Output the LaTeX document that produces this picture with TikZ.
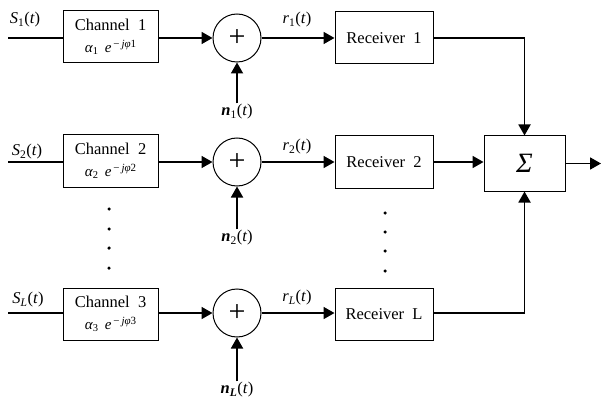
\documentclass[tikz,border=0pt]{standalone}
\usepackage{fontspec}
\setmainfont{Liberation Serif}
\usetikzlibrary{arrows.meta}
\newcommand{\chgain}[1]{{\fontsize{15}{15}\selectfont\textit{α}\textsubscript{#1}\, \textit{e}\raisebox{0.75ex}{\fontsize{11}{11}\selectfont\,−\,\textit{jφ}#1}}}
\begin{document}
\begin{tikzpicture}[x=1pt,y=-1pt,
  chbox/.style={draw,line width=1pt,minimum width=95pt,minimum height=52pt,inner sep=0pt,align=center,
    font=\fontsize{16.5}{20}\selectfont},
  rxbox/.style={draw,line width=1pt,minimum width=98pt,minimum height=52pt,inner sep=0pt,
    font=\fontsize{16.5}{20}\selectfont},
  adder/.style={draw,circle,line width=1pt,minimum size=48pt,inner sep=0pt,font=\fontsize{30}{30}\selectfont},
  sig/.style={line width=1.8pt},
  arr/.style={sig,-{Triangle[length=11pt,width=12pt]}},
  lbl/.style={font=\fontsize{16.5}{16.5}\selectfont,inner sep=1pt},
  vdot/.style={circle,fill,inner sep=0pt,minimum size=3.5pt}]
\useasboundingbox (0,0) rectangle (602,401);

% channel blocks
\node[chbox] (ch1) at (110.5,37) {Channel\ \ 1\\[2pt]\chgain{1}};
\node[chbox] (ch2) at (110.5,161) {Channel\ \ 2\\[2pt]\chgain{2}};
\node[chbox] (ch3) at (110.5,314) {Channel\ \ 3\\[2pt]\chgain{3}};

% inputs
\coordinate (in1) at (8,38);
\coordinate (in2) at (8,162);
\coordinate (in3) at (8,313);
\node[lbl] (s1) at (25,20) {\textit{S}\textsubscript{1}(\textit{t})};
\node[lbl] (s2) at (27,152) {\textit{S}\textsubscript{2}(\textit{t})};
\node[lbl] (s3) at (28,300) {\textit{S\textsubscript{L}}(\textit{t})};

% adders
\node[adder] (add1) at (237,38) {+};
\node[adder] (add2) at (237,162) {+};
\node[adder] (add3) at (237,313) {+};

% noise labels
\node[lbl] (n1) at (237,112) {\textbf{\textit{n}}\textsubscript{1}(\textit{t})};
\node[lbl] (n2) at (237,238) {\textbf{\textit{n}}\textsubscript{2}(\textit{t})};
\node[lbl] (n3) at (237,390) {\textbf{\textit{n\textsubscript{L}}}(\textit{t})};

% receivers
\node[rxbox] (rx1) at (384,38) {Receiver\ \ 1};
\node[rxbox] (rx2) at (384,162) {Receiver\ \ 2};
\node[rxbox] (rx3) at (384,314) {Receiver\ \ L};

% received signal labels
\node[lbl] (r1) at (297,20) {\textit{r}\textsubscript{1}(\textit{t})};
\node[lbl] (r2) at (297,147) {\textit{r}\textsubscript{2}(\textit{t})};
\node[lbl] (r3) at (297,298) {\textit{r\textsubscript{L}}(\textit{t})};

% combiner
\node[draw,line width=1pt,minimum width=81pt,minimum height=55pt,inner sep=0pt,
  font=\fontsize{28}{28}\selectfont] (sum) at (524.5,163.5) {\textit{Σ}};
\coordinate (out) at (601,163.5);

% continuation dots
\foreach \y [count=\i] in {209,229,248,268} \node[vdot] (dl\i) at (109,\y) {};
\foreach \y [count=\i] in {213,232,251,271} \node[vdot] (dr\i) at (385,\y) {};

% connections
\draw[sig] (in1) -- (ch1.west |- in1);
\draw[sig] (in2) -- (ch2.west |- in2);
\draw[sig] (in3) -- (ch3.west |- in3);
\draw[arr] (ch1.east |- add1) -- (add1);
\draw[arr] (ch2.east |- add2) -- (add2);
\draw[arr] (ch3.east |- add3) -- (add3);
\draw[arr] (n1.north -| add1) -- (add1.south);
\draw[arr] (n2.north -| add2) -- (add2.south);
\draw[arr] (n3.north -| add3) -- (add3.south);
\draw[arr] (add1) -- (rx1.west |- add1);
\draw[arr] (add2) -- (rx2.west |- add2);
\draw[arr] (add3) -- (rx3.west |- add3);
\draw[arr] (rx1.east |- add1) -| (sum.north);
\draw[arr] (rx2.east |- add2) -- (sum.west |- add2);
\draw[arr] (rx3.east |- add3) -| (sum.south);
\draw[arr] (sum.east) -- (out);
\end{tikzpicture}
\end{document}
